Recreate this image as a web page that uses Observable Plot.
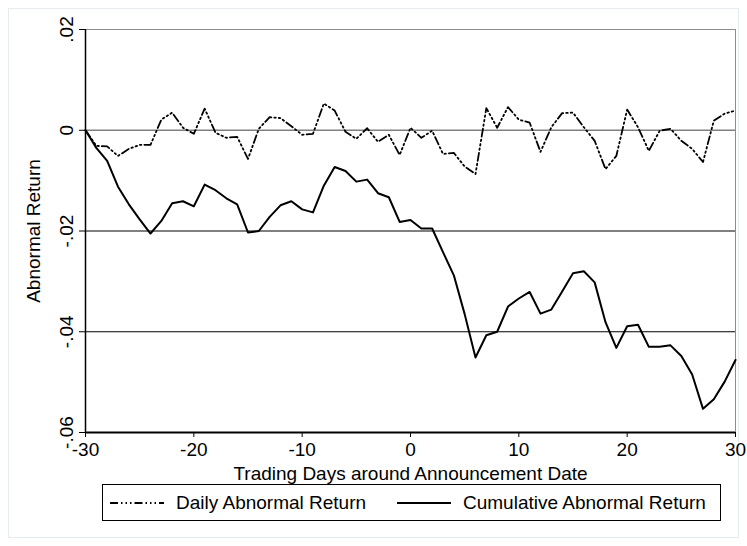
<!DOCTYPE html>
<html>
<head>
<meta charset="utf-8">
<script src="https://cdn.jsdelivr.net/npm/d3@7"></script>
<script src="https://cdn.jsdelivr.net/npm/@observablehq/plot@0.6"></script>
<style>
  html, body { margin: 0; padding: 0; background: #fff; }
  #wrap { position: relative; width: 747px; height: 546px; overflow: hidden; font-family: "Liberation Sans", Arial, sans-serif; }
  #frame { position: absolute; left: 8px; top: 8px; width: 731px; height: 530px; border: 1px solid #e6ecf0; box-sizing: border-box; pointer-events: none; }
  #chart { position: absolute; left: 0; top: 0; }
  #legend { position: absolute; left: 102px; top: 484px; width: 619px; height: 37px; border: 1px solid #000; box-sizing: border-box; background: #fff; }
  .entry { position: absolute; top: 0; height: 35px; display: flex; align-items: center; font-size: 19px; color: #000; white-space: nowrap; }
  .entry svg { margin-right: 12px; }
</style>
</head>
<body>
<div id="wrap">
  <div id="frame"></div>
  <div id="chart"></div>
  <div id="legend"></div>
</div>
<script>
// ---- data ----
const days = [-30,-29,-28,-27,-26,-25,-24,-23,-22,-21,-20,-19,-18,-17,-16,-15,-14,-13,-12,-11,
  -10,-9,-8,-7,-6,-5,-4,-3,-2,-1,0,1,2,3,4,5,6,7,8,9,10,11,12,13,14,15,16,17,18,19,20,
  21,22,23,24,25,26,27,28,29,30];
const dailyAR = [0, -0.0031, -0.0032, -0.0051, -0.0037, -0.0029, -0.0029, 0.0021, 0.0035, 0.0005,
  -0.0007, 0.0043, -0.0005, -0.0015, -0.0013, -0.0057,
  0.0003, 0.0026, 0.0024, 0.0008, -0.0009, -0.0007, 0.0053, 0.0039, -0.0003, -0.0017, 0.0004, -0.0023, -0.0009, -0.0049,
  0.0005, -0.0015, -0.0001, -0.0047, -0.0045, -0.0072, -0.0087, 0.0044, 0.0005, 0.0046, 0.0021, 0.0015, -0.0043, 0.0006, 0.0034,
  0.0035, 0.0006, -0.0021, -0.0077, -0.0051, 0.0041, 0.0006, -0.0041, -0.0001, 0.0003, -0.0021, -0.0037, -0.0063, 0.0019, 0.0033, 0.0039];
const cumAR = [0, -0.0035, -0.0061, -0.0112, -0.0147, -0.0177, -0.0205, -0.018, -0.0145, -0.0141,
  -0.0151, -0.0108, -0.0119, -0.0135, -0.0147, -0.0203, -0.0200, -0.0172, -0.0149, -0.0141,
  -0.0157, -0.0163, -0.011, -0.0073, -0.0081, -0.0102, -0.0098, -0.0125, -0.0133, -0.0182,
  -0.0178, -0.0195, -0.0195, -0.0242, -0.0288, -0.0365, -0.0451, -0.0407, -0.04, -0.035,
  -0.0334, -0.0321, -0.0364, -0.0356, -0.032, -0.0284, -0.028, -0.0302, -0.0381, -0.0432, -0.0389,
  -0.0386, -0.043, -0.043, -0.0427, -0.0448, -0.0485, -0.0553, -0.0534, -0.0499, -0.0456];
const xTicks = [-30, -20, -10, 0, 10, 20, 30];
const yTicks = [0.02, 0, -0.02, -0.04, -0.06];
const yTickLabels = [".02", "0", "-.02", "-.04", "-.06"];
const seriesNames = ["Daily Abnormal Return", "Cumulative Abnormal Return"];
const xTitle = "Trading Days around Announcement Date";
const yTitle = "Abnormal Return";

const rows = days.map((d, i) => ({day: d, daily: dailyAR[i], cum: cumAR[i]}));
const yLabelRows = yTicks.map((v, i) => ({v, label: yTickLabels[i]}));
const DASH = "8,3,1.5,3,1.5,3,1.5,3";
const FS = 19;

const chart = Plot.plot({
  width: 747,
  height: 486,
  marginLeft: 85,
  marginRight: 12,
  marginTop: 29,
  marginBottom: 54,
  style: {fontFamily: '"Liberation Sans", Arial, sans-serif', fontSize: FS + "px", color: "#000", background: "transparent", overflow: "visible"},
  x: {domain: [-30, 30]},
  y: {domain: [-0.06, 0.02]},
  marks: [
    Plot.ruleY([0.02], {stroke: "#8c8c8c", strokeWidth: 1}),
    Plot.ruleY([0], {stroke: "#808080", strokeWidth: 1.4}),
    Plot.ruleY([-0.02, -0.04], {stroke: "#000", strokeWidth: 1}),
    Plot.ruleX([30], {stroke: "#8c8c8c", strokeWidth: 1}),
    Plot.line(rows, {x: "day", y: "daily", stroke: "#000", strokeWidth: 1.8, strokeDasharray: DASH}),
    Plot.line(rows, {x: "day", y: "cum", stroke: "#000", strokeWidth: 2}),
    Plot.ruleY([-0.06], {stroke: "#000", strokeWidth: 2}),
    Plot.ruleX([-30], {stroke: "#000", strokeWidth: 1.5}),
    Plot.axisX({ticks: xTicks, tickSize: 5, tickPadding: 5, tickFormat: d => String(d), fontSize: FS, label: null}),
    Plot.axisY({ticks: yTicks, tickSize: 6, tickFormat: () => "", label: null}),
    Plot.text(yLabelRows, {y: "v", text: "label", frameAnchor: "left", dx: -19, rotate: -90, textAnchor: "middle", lineAnchor: "middle", fontSize: FS, fill: "#000"}),
    Plot.text([yTitle], {text: d => d, frameAnchor: "left", dx: -52, rotate: -90, textAnchor: "middle", lineAnchor: "middle", fontSize: FS, fill: "#000"}),
    Plot.text([xTitle], {text: d => d, frameAnchor: "bottom", dy: 41, textAnchor: "middle", lineAnchor: "middle", fontSize: FS, fill: "#000"})
  ]
});
document.getElementById("chart").appendChild(chart);

// legend
const legend = document.getElementById("legend");
const entryX = [7, 294];
seriesNames.forEach((name, i) => {
  const e = document.createElement("div");
  e.className = "entry";
  e.style.left = entryX[i] + "px";
  const dash = i === 0 ? DASH : "none";
  e.innerHTML = `<svg width="54" height="6"><line x1="0" y1="3" x2="54" y2="3" stroke="#000" stroke-width="2" stroke-dasharray="${dash}"/></svg><span>${name}</span>`;
  legend.appendChild(e);
});
</script>
</body>
</html>
